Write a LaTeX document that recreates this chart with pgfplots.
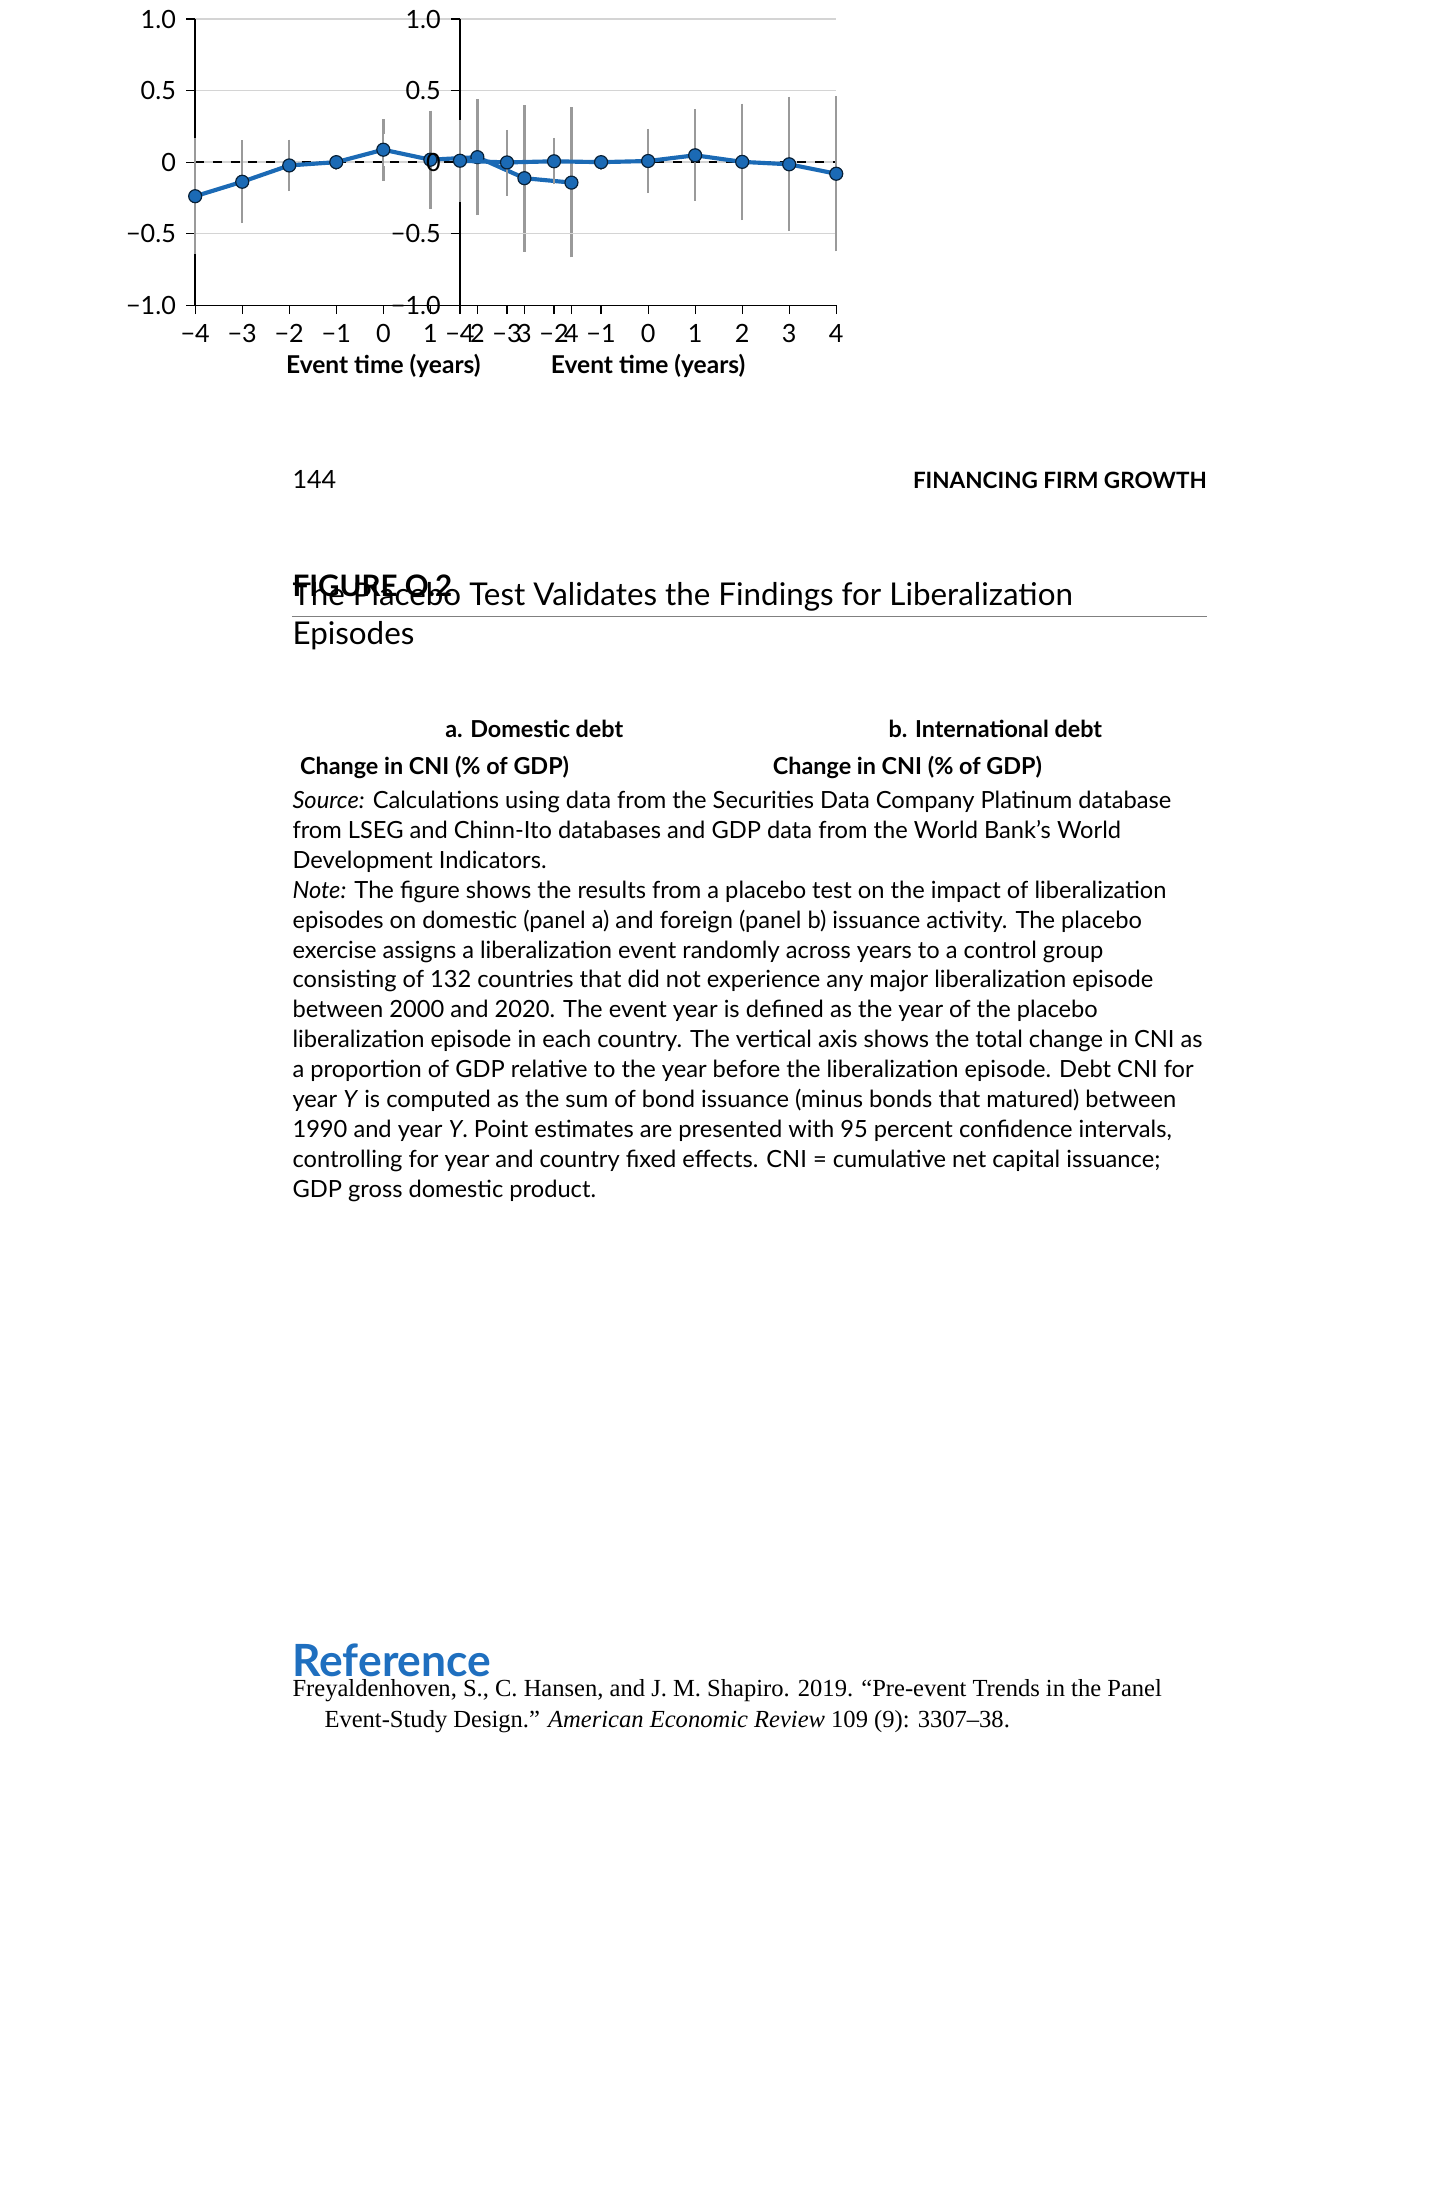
\documentclass[border=0pt]{standalone}
\usepackage{pgfplots}
\pgfplotsset{compat=1.18}
\usepackage{fontspec}
\setmainfont{Lato}
\newfontfamily\serif{Liberation Serif}
\definecolor{wbblue}{HTML}{1B6AB5}
\definecolor{refblue}{HTML}{1F6FBF}
\definecolor{gridg}{HTML}{D4D4D4}
\definecolor{errg}{HTML}{9A9A9A}
\pgfplotstableread{
x y ep em
-4 -0.238 0.356 0.352
-3 -0.137 0.237 0.238
-2 -0.023 0.129 0.128
-1 0 0 0
0 0.087 0.161 0.166
1 0.017 0.291 0.290
2 0.035 0.354 0.354
3 -0.112 0.458 0.461
4 -0.143 0.474 0.470
}\dataA
\pgfplotstableread{
x y ep em
-4 0.010 0.234 0.234
-3 -0.002 0.176 0.180
-2 0.006 0.112 0.110
-1 0 0 0
0 0.008 0.172 0.172
1 0.048 0.269 0.267
2 0.002 0.356 0.356
3 -0.015 0.419 0.416
4 -0.081 0.489 0.490
}\dataB
\pgfplotsset{
  panel/.style={
    width=4.47cm, height=3.40cm, scale only axis,
    xmin=-4, xmax=4, ymin=-1, ymax=1,
    xtick={-4,...,4}, ytick={-1,-0.5,0,0.5,1},
    xticklabels={−4,−3,−2,−1,0,1,2,3,4},
    yticklabels={−1.0,−0.5,0,0.5,1.0},
    axis x line*=bottom, axis y line*=left,
    ymajorgrids, grid style={gridg, line width=0.5pt},
    tick style={black, line width=0.4pt}, tick align=outside, major tick length=3pt,
    every tick label/.append style={font=\fontsize{8.5}{10}\selectfont},
    xlabel={\bfseries Event time (years)},
    xlabel style={font=\fontsize{8.3}{10}\selectfont, yshift=3pt},
    axis line style={black, line width=0.5pt},
    clip=false,
  },
  ser/.style={wbblue, line width=1.4pt, mark=*, mark size=2.2pt,
    mark options={fill=wbblue, draw=black!70!wbblue, line width=0.4pt},
    error bars/.cd, y dir=both, y explicit,
    error bar style={errg, line width=0.8pt},
    error mark options={errg, line width=0.8pt, mark size=2.5pt}},
}
\begin{document}
\begin{tikzpicture}[x=0.01cm, y=0.01cm]
\path (0,0) rectangle (1700,2200);
\node[anchor=base west, font=\fontsize{8.5}{10}\selectfont, inner sep=0pt] at (347,2034) {144};
\node[anchor=base east, font=\fontsize{7.6}{10}\selectfont\bfseries, inner sep=0pt] at (1435,2034) {FINANCING FIRM GROWTH};
\node[anchor=base west, font=\fontsize{10}{12}\selectfont\bfseries, inner sep=0pt] at (347,1906) {FIGURE O.2};
\draw[black!50, line width=0.6pt] (347,1882) -- (1435,1882);
\node[anchor=base west, align=left, font=\fontsize{10.6}{13.1}\selectfont, inner sep=0pt] at (347,1849) {The Placebo Test Validates the Findings for Liberalization\\Episodes};
\node[anchor=base, font=\fontsize{7.9}{10}\selectfont\bfseries, inner sep=0pt] at (635,1738) {a. Domestic debt};
\node[anchor=base, font=\fontsize{7.9}{10}\selectfont\bfseries, inner sep=0pt] at (1183,1738) {b. International debt};
\node[anchor=base west, font=\fontsize{7.9}{10}\selectfont\bfseries, inner sep=0pt] at (356,1694) {Change in CNI (\% of GDP)};
\node[anchor=base west, font=\fontsize{7.9}{10}\selectfont\bfseries, inner sep=0pt] at (918,1694) {Change in CNI (\% of GDP)};
\begin{axis}[panel, at={(415,1324)}, anchor=south west]
\addplot[black, dashed, line width=0.5pt, forget plot] coordinates {(-4,0) (4,0)};
\addplot[ser] table[x=x, y=y, y error plus=ep, y error minus=em] {\dataA};
\end{axis}
\begin{axis}[panel, at={(978,1324)}, anchor=south west]
\addplot[black, dashed, line width=0.5pt, forget plot] coordinates {(-4,0) (4,0)};
\addplot[ser] table[x=x, y=y, y error plus=ep, y error minus=em] {\dataB};
\end{axis}
\node[anchor=base west, align=left, font=\fontsize{8}{10.1}\selectfont, inner sep=0pt] at (347,1192) {\textit{Source:} Calculations using data from the Securities Data Company Platinum database\\
from LSEG and Chinn-Ito databases and GDP data from the World Bank’s World\\
Development Indicators.\\
\textit{Note:} The figure shows the results from a placebo test on the impact of liberalization\\
episodes on domestic (panel a) and foreign (panel b) issuance activity. The placebo\\
exercise assigns a liberalization event randomly across years to a control group\\
consisting of 132 countries that did not experience any major liberalization episode\\
between 2000 and 2020. The event year is defined as the year of the placebo\\
liberalization episode in each country. The vertical axis shows the total change in CNI as\\
a proportion of GDP relative to the year before the liberalization episode. Debt CNI for\\
year \textit{Y} is computed as the sum of bond issuance (minus bonds that matured) between\\
1990 and year \textit{Y}. Point estimates are presented with 95 percent confidence intervals,\\
controlling for year and country fixed effects. CNI = cumulative net capital issuance;\\
GDP gross domestic product.};
\node[anchor=base west, font=\fontsize{15}{18}\selectfont\bfseries, text=refblue, inner sep=0pt] at (347,622) {Reference};
\node[anchor=base west, align=left, font=\serif\fontsize{8.3}{10.5}\selectfont, inner sep=0pt] at (347,562) {Freyaldenhoven, S., C. Hansen, and J. M. Shapiro. 2019. “Pre-event Trends in the Panel\\
\hspace*{0.38cm}Event-Study Design.” \textit{American Economic Review} 109 (9): 3307–38.};
\end{tikzpicture}
\end{document}
